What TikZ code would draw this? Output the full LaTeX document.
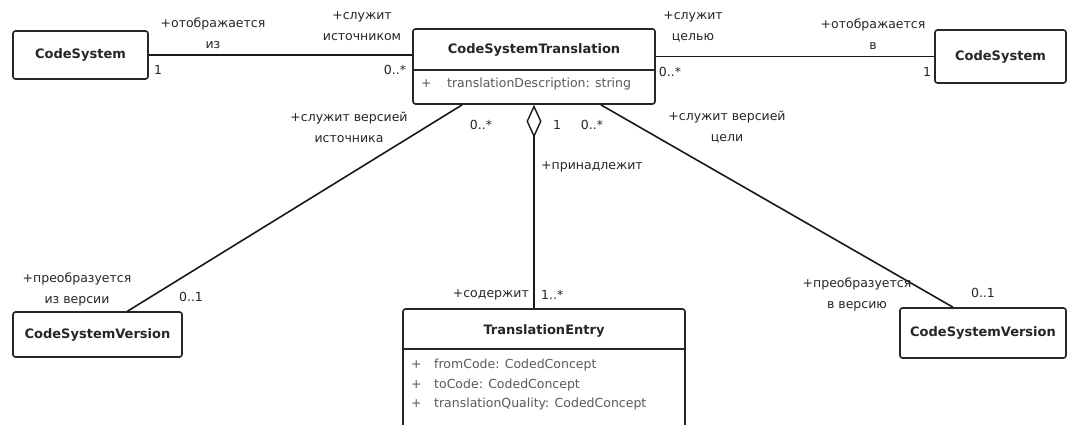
\documentclass[tikz,border=0pt]{standalone}
\usepackage{fontspec}
\setmainfont{DejaVu Sans}
\usetikzlibrary{arrows.meta}
\tikzset{
  cls/.style={draw=black!85, line width=1.6pt, rounded corners=2.5pt, fill=white, inner sep=0pt},
  cname/.style={font=\fontsize{13}{15}\selectfont\bfseries, text=black!85, inner sep=0pt},
  attr/.style={font=\fontsize{12.5}{15}\selectfont, text=black!65, inner sep=0pt, anchor=west},
  lbl/.style={font=\fontsize{12.5}{21}\selectfont, text=black!85, align=center, inner sep=0pt},
  assoc/.style={line width=1.6pt, draw=black!90},
}
\begin{document}
\begin{tikzpicture}[x=1pt,y=-1pt]
\clip (0,0) rectangle (1069,424);
\useasboundingbox (0,0) rectangle (1069,424);
\fill[white] (0,0) rectangle (1069,424);

% classes
\node[cls, minimum width=135pt, minimum height=48pt] (csL) at (80.5,55) {};
\node[cname] (csLt) at (csL) {CodeSystem};

\node[cls, minimum width=242pt, minimum height=75pt] (cst) at (534,66.5) {};
\node[cname] (cstt) at (534,49.5) {CodeSystemTranslation};
\coordinate (cstdiv) at (0,70);
\draw[line width=1.6pt, black!85] (cst.west |- cstdiv) -- (cst.east |- cstdiv);
\node[attr] (cstp) at (421,84) {+};
\node[attr] (csta) at (447,84) {translationDescription: string};

\node[cls, minimum width=131pt, minimum height=53pt] (csR) at (1000.5,56.5) {};
\node[cname] (csRt) at (csR) {CodeSystem};

\node[cls, minimum width=169pt, minimum height=45pt] (csvL) at (97.5,334.5) {};
\node[cname] (csvLt) at (csvL) {CodeSystemVersion};

\node[cls, minimum width=166pt, minimum height=50pt] (csvR) at (983,333) {};
\node[cname] (csvRt) at (csvR) {CodeSystemVersion};

\node[cls, minimum width=282pt, minimum height=131pt] (te) at (544,374.5) {};
\node[cname] (tet) at (544,331) {TranslationEntry};
\coordinate (tediv) at (0,349);
\draw[line width=1.6pt, black!85] (te.west |- tediv) -- (te.east |- tediv);
\node[attr] (tep1) at (411,365) {+};
\node[attr] (tea1) at (434,365) {fromCode: CodedConcept};
\node[attr] (tep2) at (411,385) {+};
\node[attr] (tea2) at (434,385) {toCode: CodedConcept};
\node[attr] (tep3) at (411,404) {+};
\node[attr] (tea3) at (434,404) {translationQuality: CodedConcept};

% associations
\draw[assoc] (csL.east) -- (csL.east -| cst.west);
\draw[assoc] (csR.west) -- (csR.west -| cst.east);
\coordinate (sl) at ([xshift=50pt]cst.south west);
\coordinate (sr) at ([xshift=-55pt]cst.south east);
\coordinate (el) at ([xshift=30pt]csvL.north);
\coordinate (er) at ([xshift=-30pt]csvR.north);
\draw[assoc] (sl) -- (el);
\draw[assoc] (sr) -- (er);
\draw[assoc, {Diamond[open, length=33pt, width=15pt, line width=1.4pt]}-] (cst.south) -- (cst.south |- te.north);

% role names and multiplicities
\node[lbl] (l1) at (213,33.5) {+отображается\\из};
\node[lbl] (l2) at (362,26.5) {+служит\\источником};
\node[lbl] (m1) at (158,70) {1};
\node[lbl] (m2) at (395,70) {0..*};
\node[lbl] (l3) at (693,26.5) {+служит\\целью};
\node[lbl] (l4) at (873,34.5) {+отображается\\в};
\node[lbl] (m3) at (670,72) {0..*};
\node[lbl] (m4) at (927,72) {1};
\node[lbl] (l5) at (349,127.5) {+служит версией\\источника};
\node[lbl] (m5) at (481,125) {0..*};
\node[lbl] (m6) at (557,125) {1};
\node[lbl] (m7) at (592,125) {0..*};
\node[lbl] (l6) at (727,127.5) {+служит версией\\цели};
\node[lbl, anchor=west] (l7) at (541,167) {+принадлежит};
\node[lbl] (l8) at (77,289) {+преобразуется\\из версии};
\node[lbl] (m8) at (191,297) {0..1};
\node[lbl, anchor=east] (l9) at (529,295) {+содержит};
\node[lbl, anchor=west] (m9) at (541,295) {1..*};
\node[lbl] (l10) at (857,294) {+преобразуется\\в версию};
\node[lbl] (m10) at (983,293) {0..1};
\end{tikzpicture}
\end{document}
